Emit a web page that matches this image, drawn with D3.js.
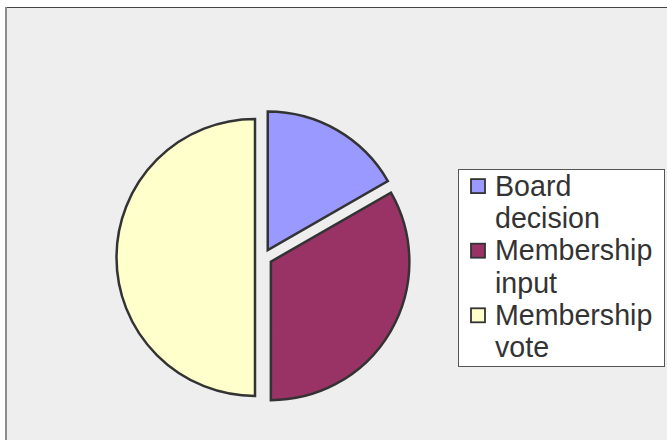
<!DOCTYPE html>
<html>
<head>
<meta charset="utf-8">
<script src="https://cdn.jsdelivr.net/npm/d3@7"></script>
<style>
  html, body { margin: 0; padding: 0; background: #ffffff; }
  svg { display: block; }
  text { font-family: "Liberation Sans", Arial, sans-serif; }
</style>
</head>
<body>
<svg id="chart" width="667" height="440"></svg>
<script>
// ---- data ----
const categories = ["Board decision", "Membership input", "Membership vote"];
const labelLines = [["Board", "decision"], ["Membership", "input"], ["Membership", "vote"]];
const values = [16.7, 33.3, 50.0];
const colors = ["#9999FF", "#993366", "#FFFFCC"];

const svg = d3.select("#chart");
const W = 667, H = 440;

// plot area background & frame
svg.append("rect").attr("x", 5).attr("y", 7).attr("width", W - 5).attr("height", H - 7).attr("fill", "#eeeeee");
svg.append("line").attr("x1", 5).attr("x2", W).attr("y1", 7.5).attr("y2", 7.5).attr("stroke", "#444").attr("stroke-width", 1.2);
svg.append("line").attr("x1", 6).attr("x2", 6).attr("y1", 7).attr("y2", H).attr("stroke", "#8c8c8c").attr("stroke-width", 2);

// pie
const cx = 263.5, cy = 257.4, R = 138.5, explode = 8.5;
const pie = d3.pie().sort(null).value(d => d);
const arcs = pie(values);
const arc = d3.arc().innerRadius(0).outerRadius(R);

const g = svg.append("g").attr("transform", `translate(${cx},${cy})`);
g.selectAll("path")
  .data(arcs)
  .join("path")
  .attr("d", arc)
  .attr("transform", d => {
    const a = (d.startAngle + d.endAngle) / 2;
    return `translate(${Math.sin(a) * explode},${-Math.cos(a) * explode})`;
  })
  .attr("fill", (d, i) => colors[i])
  .attr("stroke", "#333333")
  .attr("stroke-width", 2.5)
  .attr("stroke-linejoin", "miter");

// legend
const lx = 458.5, ly = 169.5, lw = 206, lh = 197;
const lg = svg.append("g");
lg.append("rect").attr("x", lx).attr("y", ly).attr("width", lw).attr("height", lh)
  .attr("fill", "#ffffff").attr("stroke", "#555").attr("stroke-width", 1);

const lineGap = 32.3, firstBase = 195.6, fontSize = 28.6;
categories.forEach((c, i) => {
  const base = firstBase + i * 2 * lineGap;
  lg.append("rect")
    .attr("x", 471).attr("y", base - 16.5).attr("width", 14).attr("height", 14)
    .attr("fill", colors[i]).attr("stroke", "#333").attr("stroke-width", 1.8);
  const t = lg.append("text")
    .attr("x", 495).attr("y", base)
    .attr("font-size", fontSize).attr("fill", "#333333");
  labelLines[i].forEach((ln, j) => {
    t.append("tspan").attr("x", 495).attr("y", base + j * lineGap).text(ln);
  });
});
</script>
</body>
</html>
